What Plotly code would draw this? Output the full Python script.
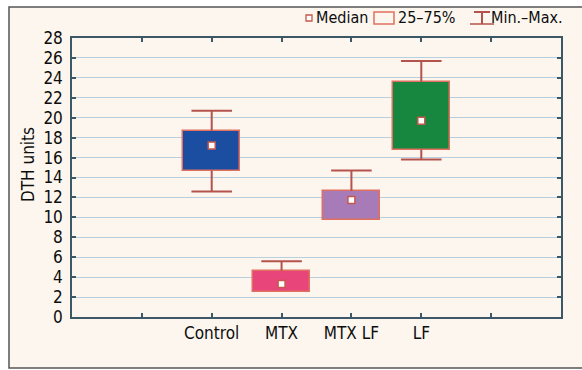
import plotly.graph_objects as go

# ---- data ----
categories = ["Control", "MTX", "MTX LF", "LF"]
positions = [2, 3, 4, 5]
mins = [12.6, 2.5, 9.7, 15.8]
q1s = [14.7, 2.5, 9.7, 16.8]
medians = [17.2, 3.3, 11.75, 19.7]
q3s = [18.7, 4.65, 12.65, 23.6]
maxs = [20.7, 5.6, 14.7, 25.7]
fill_colors = ["#1b4ea0", "#e8457a", "#a67bb8", "#17863f"]
y_ticks = list(range(0, 29, 2))

FONT = "DejaVu Sans Condensed, Liberation Sans Narrow, Arial Narrow, sans-serif"
TXT = "#0d0d0d"
WHISK = "#b4524c"
BOXLINE = "#e0705f"

L, R, T, B = 72, 21, 38, 53
W, H = 582, 370
PW, PH = W - L - R, H - T - B


def px(x):
    return (x - L) / PW


def py(y):
    return (H - B - y) / PH


fig = go.Figure()

# boxes (25-75%)
fig.add_trace(go.Bar(
    x=positions,
    y=[b - a for a, b in zip(q1s, q3s)],
    base=q1s,
    width=0.815,
    marker=dict(color=fill_colors, line=dict(color=BOXLINE, width=1.5)),
    hoverinfo="skip",
    showlegend=False,
))

# whiskers
cap = 0.29
wx, wy = [], []
for p, lo, a, b, hi in zip(positions, mins, q1s, q3s, maxs):
    wx += [p, p, None, p - cap, p + cap, None]
    wy += [b, hi, None, hi, hi, None]
    if lo < a:
        wx += [p, p, None, p - cap, p + cap, None]
        wy += [a, lo, None, lo, lo, None]
fig.add_trace(go.Scatter(x=wx, y=wy, mode="lines",
                         line=dict(color=WHISK, width=2),
                         hoverinfo="skip", showlegend=False))

# medians
fig.add_trace(go.Scatter(
    x=positions, y=medians, mode="markers",
    marker=dict(symbol="square", size=7, color="white",
                line=dict(color="#c4584c", width=1.5)),
    hoverinfo="skip", showlegend=False))

shapes = [
    # outer frame with cream background
    dict(type="rect", xref="paper", yref="paper",
         x0=px(9), x1=px(600), y0=py(368), y1=py(7),
         fillcolor="#fcf6ee", line=dict(color="#555555", width=1.5),
         layer="below"),
    # legend: median marker
    dict(type="rect", xref="paper", yref="paper",
         x0=px(306), x1=px(312), y0=py(21), y1=py(15),
         fillcolor="white", line=dict(color="#c4584c", width=1.3)),
    # legend: box
    dict(type="rect", xref="paper", yref="paper",
         x0=px(374), x1=px(394), y0=py(24), y1=py(12),
         fillcolor="#fcf6ee", line=dict(color=BOXLINE, width=1.5)),
    # legend: whisker
    dict(type="line", xref="paper", yref="paper",
         x0=px(474), x1=px(490), y0=py(12), y1=py(12),
         line=dict(color=WHISK, width=2)),
    dict(type="line", xref="paper", yref="paper",
         x0=px(482), x1=px(482), y0=py(12), y1=py(24),
         line=dict(color=WHISK, width=2)),
    dict(type="line", xref="paper", yref="paper",
         x0=px(470), x1=px(494), y0=py(24), y1=py(24),
         line=dict(color=WHISK, width=1.5)),
]

LEG_FONT = dict(family=FONT, size=16, color=TXT)
annotations = [
    dict(text="Median", xref="paper", yref="paper", x=px(314), y=py(18),
         xanchor="left", yanchor="middle", showarrow=False, font=LEG_FONT),
    dict(text="25–75%", xref="paper", yref="paper", x=px(396), y=py(18),
         xanchor="left", yanchor="middle", showarrow=False, font=LEG_FONT),
    dict(text="Min.–Max.", xref="paper", yref="paper", x=px(489), y=py(18),
         xanchor="left", yanchor="middle", showarrow=False, font=LEG_FONT),
    dict(text="DTH units", xref="paper", yref="paper", x=px(28), y=py(165),
         xanchor="center", yanchor="middle", textangle=-90, showarrow=False,
         font=dict(family=FONT, size=17, color=TXT)),
]

TICK_FONT = dict(family=FONT, size=17, color=TXT)

fig.update_layout(
    width=W, height=H,
    margin=dict(l=L, r=R, t=T, b=B, pad=0),
    paper_bgcolor="white",
    plot_bgcolor="#fefefe",
    shapes=shapes,
    annotations=annotations,
    bargap=0,
    font=dict(family=FONT, size=17, color=TXT),
    xaxis=dict(
        range=[0, 7],
        tickvals=[1] + positions + [6],
        ticktext=[""] + categories + [""],
        ticks="inside", ticklen=4, tickcolor="#3c5866", tickwidth=1.5,
        showline=True, linecolor="#3c5866", linewidth=1.5, mirror="ticks",
        showgrid=False, zeroline=False,
        tickfont=TICK_FONT,
    ),
    yaxis=dict(
        range=[0, 28],
        tickvals=y_ticks,
        ticks="inside", ticklen=4, tickcolor="#3c5866", tickwidth=1.5,
        showline=True, linecolor="#3c5866", linewidth=1.5, mirror="ticks",
        showgrid=True, gridcolor="#b9cfdd", gridwidth=1,
        zeroline=False,
        ticklabelstandoff=4,
        tickfont=TICK_FONT,
    ),
)

fig.write_html(
    "out.html",
    config={"displayModeBar": False},
    post_script="document.body.style.margin='0';document.body.style.padding='0';",
)
